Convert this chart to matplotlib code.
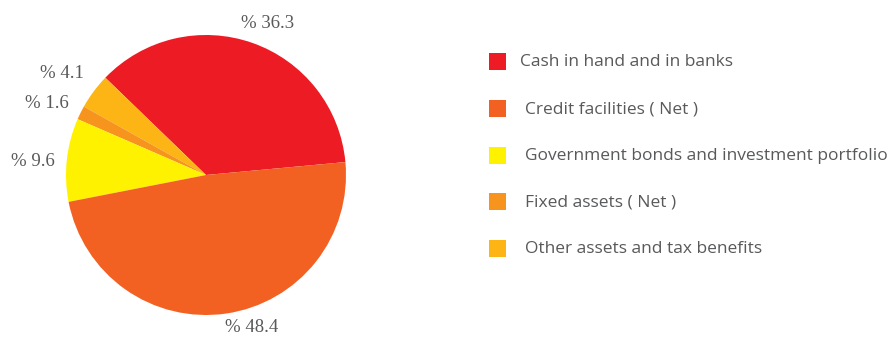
import matplotlib
matplotlib.use("Agg")
import matplotlib.pyplot as plt
from matplotlib.patches import Rectangle

# Asset composition (percent)
categories = [
    "Cash in hand and in banks",
    "Other assets and tax benefits",
    "Fixed assets ( Net )",
    "Government bonds and investment portfolio",
    "Credit facilities ( Net )",
]
values = [36.3, 4.1, 1.6, 9.6, 48.4]
colors = ["#ED1C24", "#FDB515", "#F7941D", "#FFF200", "#F26122"]

# order of entries in the key
legend_order = [0, 4, 3, 2, 1]

text_color = "#58595B"

W, H = 895, 338
fig = plt.figure(figsize=(W / 100, H / 100), dpi=100)

# pie axes: centre at (206, 175) px, radius 140 px
cx, cy, r = 206, 175, 140
ax_w = 470
ax = fig.add_axes([0, 0, ax_w / W, 1])
wedges, _ = ax.pie(values, colors=colors, startangle=5.3, counterclock=True,
                   radius=1, wedgeprops=dict(linewidth=0))
ax.set_xlim(-cx / r, (ax_w - cx) / r)
ax.set_ylim((cy - H) / r, cy / r)
ax.set_aspect("equal")
ax.axis("off")

# value labels around the pie (x, y in radius units)
label_xy = [(0.443, 1.085), (-1.029, 0.725), (-1.136, 0.511), (-1.236, 0.10), (0.329, -1.09)]
for v, (lx, ly) in zip(values, label_xy):
    ax.text(lx, ly, f"% {v}", ha="center", va="center", color=text_color,
            fontsize=13.5, family="Liberation Serif")

# key on the right, in pixel coordinates
lg = fig.add_axes([ax_w / W, 0, (W - ax_w) / W, 1])
lg.set_xlim(ax_w, W)
lg.set_ylim(H, 0)
lg.axis("off")
row_y = [53, 100, 146.5, 193, 239.5]
for i, idx in enumerate(legend_order):
    y = row_y[i]
    lg.add_patch(Rectangle((489, y), 17, 17, facecolor=colors[idx], edgecolor="none"))
    tx = 520 if i == 0 else 525
    lg.text(tx, y + 9.5, categories[idx], ha="left", va="center", color=text_color,
            fontsize=12.5, family="Open Sans")

fig.savefig("out.png", dpi=100)
